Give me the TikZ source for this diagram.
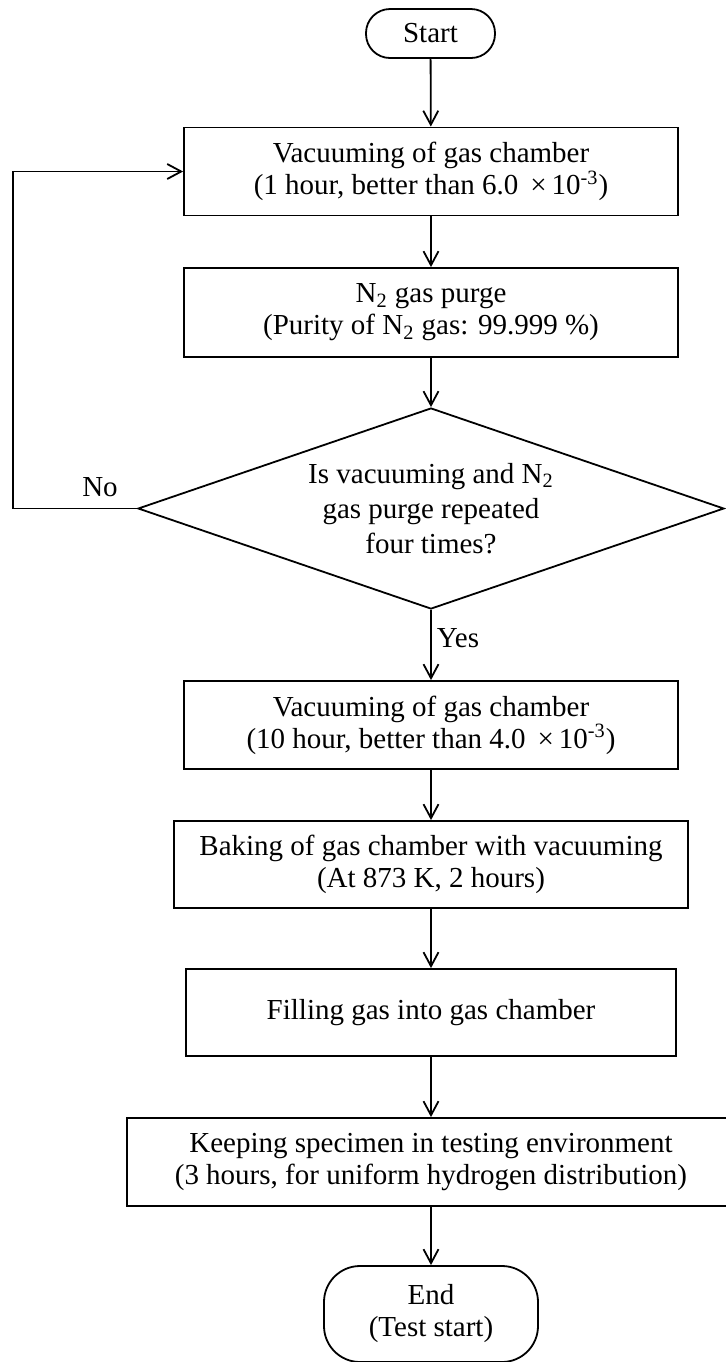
\documentclass[tikz,border=0pt]{standalone}
\usepackage{fontspec}
\setmainfont{Liberation Serif}
\usetikzlibrary{arrows.meta,shapes.geometric}

\begin{document}
\begin{tikzpicture}
	[x=0.5pt,y=-0.5pt,line width=0.9pt,
	every node/.style={font=\fontsize{14.5}{16}\selectfont,align=center,inner sep=0pt},
	stepbox/.style={draw,rectangle,minimum width=247pt,minimum height=44pt},
	term/.style={draw,rectangle,rounded corners=12pt,minimum width=64.5pt,minimum height=24.5pt},
	decision/.style={draw,diamond,aspect=2.915,minimum width=293pt,minimum height=100.5pt,font=\fontsize{14.5}{17.5}\selectfont},
	edge/.style={-{Straight Barb[length=7pt,width=7.5pt]}}]
	\useasboundingbox (0,0) rectangle (725,1362);
	
	\node[term] (start) at (430.5,33.5) {Start};
	\node[stepbox] (vac1) at (431,171.5) {Vacuuming of gas chamber\\(1 hour, better than 6.0 \,×\,10\textsuperscript{-3})};
	\node[stepbox,minimum height=44.5pt] (purge) at (431,312.5) {N\textsubscript{2} gas purge\\(Purity of N\textsubscript{2} gas: 99.999 \%)};
	\node[decision] (rep) at (431,508.5) {Is vacuuming and N\textsubscript{2}\\gas purge repeated\\four times?};
	\node[stepbox] (vac2) at (431,725) {Vacuuming of gas chamber\\(10 hour, better than 4.0 \,×\,10\textsuperscript{-3})};
	\node[stepbox,minimum width=257pt,minimum height=43.5pt] (bake) at (431,864.5) {Baking of gas chamber with vacuuming\\(At 873 K, 2 hours)};
	\node[stepbox,minimum width=245pt,minimum height=43.5pt] (fill) at (431,1012.5) {Filling gas into gas chamber};
	\node[stepbox,minimum width=304pt] (keep) at (431,1162) {Keeping specimen in testing environment\\(3 hours, for uniform hydrogen distribution)};
	\node[term,minimum width=107pt,minimum height=48pt,rounded corners=18pt] (end) at (431,1314) {End\\(Test start)};
	
	\node (no) at (100,487) {No};
	\node (yes) at (458,638) {Yes};
	\coordinate (loop) at (12.7,508.5);
	
	\foreach \from/\to in {start/vac1,vac1/purge,purge/rep,rep/vac2,vac2/bake,bake/fill,fill/keep,keep/end}
	\draw[edge] (\from) -- (\to);
	
	\draw[edge] (rep.west) -- (loop) |- (vac1.west);
\end{tikzpicture}
\end{document}
